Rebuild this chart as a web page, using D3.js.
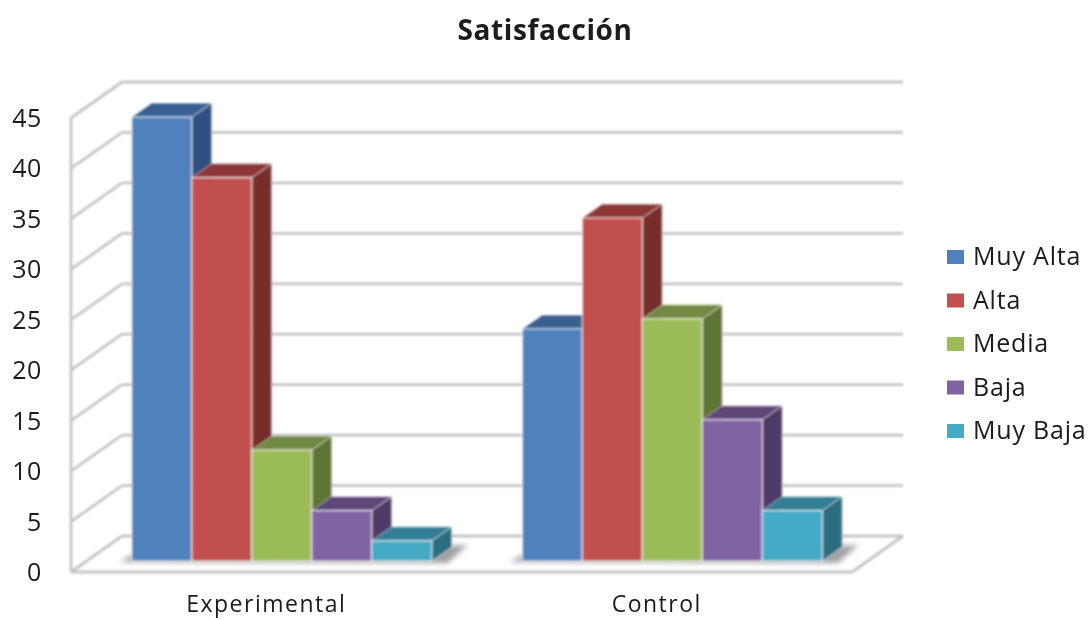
<!DOCTYPE html>
<html>
<head>
<meta charset="utf-8">
<script src="https://cdn.jsdelivr.net/npm/d3@7"></script>
<style>
html, body { margin: 0; padding: 0; background: #fff; }
svg { display: block; }
text { font-family: "Open Sans", Lato, sans-serif; fill: #1a1a1a; }
</style>
</head>
<body>
<script>
// datos
var categories = ["Experimental", "Control"];
var seriesNames = ["Muy Alta", "Alta", "Media", "Baja", "Muy Baja"];
var experimental = [44, 38, 11, 5, 2];
var control = [23, 34, 24, 14, 5];
var tickValues = [0, 5, 10, 15, 20, 25, 30, 35, 40, 45];

// colores: frente, arriba, lado
var frontColors = ["#4f81bd", "#c0504d", "#9bbb59", "#8064a2", "#45aac6"];
var topColors = ["#386090", "#8e3634", "#71893f", "#5e4679", "#317f95"];
var sideColors = ["#2f5080", "#772d2b", "#5e7535", "#4e3a66", "#296d80"];

var w = 1088, h = 620;
var left = 71, right = 852, floorY = 572;
var wallDx = 51, wallDy = -36;   // profundidad de la pared
var barOffX = 15.5, barOffY = -11; // frente de la barra
var barDx = 20, barDy = -14;     // profundidad de la barra

var svg = d3.select("body").append("svg")
  .attr("width", w)
  .attr("height", h);

var defs = svg.append("defs");
defs.append("filter").attr("id", "soft")
  .append("feGaussianBlur").attr("stdDeviation", 0.8);
defs.append("filter").attr("id", "softText")
  .append("feGaussianBlur").attr("stdDeviation", 0.5);
defs.append("filter").attr("id", "shadow")
  .attr("x", "-20%").attr("width", "140%")
  .attr("y", "-50%").attr("height", "200%")
  .append("feGaussianBlur").attr("stdDeviation", 2.4);

var y = d3.scaleLinear().domain([0, 45]).range([floorY, floorY - 454]);
var x0 = d3.scaleBand().domain(categories).range([left, right]);
var x1 = d3.scaleBand().domain(seriesNames).range([-150, 150]);
var values = { "Experimental": experimental, "Control": control };

var chart = svg.append("g").attr("filter", "url(#soft)");

// paredes y piso
var gridColor = "#c4c4c4";
var grid = chart.append("g").attr("fill", "none").attr("stroke", gridColor).attr("stroke-width", 2.8);

grid.selectAll("line.back")
  .data(tickValues)
  .enter()
  .append("line")
  .attr("class", "back")
  .attr("x1", left + wallDx)
  .attr("x2", right + wallDx)
  .attr("y1", function(d) { return y(d) + wallDy; })
  .attr("y2", function(d) { return y(d) + wallDy; });

grid.selectAll("line.side")
  .data(tickValues)
  .enter()
  .append("line")
  .attr("class", "side")
  .attr("x1", left)
  .attr("x2", left + wallDx)
  .attr("y1", function(d) { return y(d); })
  .attr("y2", function(d) { return y(d) + wallDy; });

grid.append("line")
  .attr("x1", left).attr("x2", left)
  .attr("y1", y(45)).attr("y2", y(0));

grid.append("line")
  .attr("x1", left).attr("x2", right)
  .attr("y1", y(0)).attr("y2", y(0));

grid.append("line")
  .attr("x1", right).attr("x2", right + wallDx)
  .attr("y1", y(0)).attr("y2", y(0) + wallDy);

// barras
var line = d3.line();
var baseY = y(0) + barOffY;
var barH = function(v) { return y(0) - y(v); };

var groups = chart.selectAll("g.grupo")
  .data(categories)
  .enter()
  .append("g")
  .attr("class", "grupo")
  .attr("transform", function(d) {
    return "translate(" + (x0(d) + x0.bandwidth() / 2 + barOffX) + ",0)";
  });

// sombra en el piso
groups.append("path")
  .attr("fill", "#a2a2a2")
  .attr("filter", "url(#shadow)")
  .attr("d", function() {
    return line([[-162, baseY + 1], [-150, baseY - 6], [150 + barDx + 16, baseY + barDy - 2],
      [150 + 16, baseY + 2]]) + "Z";
  });

groups.each(function(cat) {
  var g = d3.select(this);
  var bars = g.selectAll("g.barra")
    .data(values[cat].map(function(v, i) { return { name: seriesNames[i], value: v, i: i }; }))
    .enter()
    .append("g")
    .attr("class", "barra");

  // lado
  bars.append("path")
    .attr("fill", function(d) { return sideColors[d.i]; })
    .attr("stroke", "#fff").attr("stroke-opacity", 0.45).attr("stroke-width", 1)
    .attr("d", function(d) {
      var r = x1(d.name) + x1.bandwidth(), t = baseY - barH(d.value);
      return line([[r, t], [r + barDx, t + barDy], [r + barDx, baseY + barDy], [r, baseY]]) + "Z";
    });

  // arriba
  bars.append("path")
    .attr("fill", function(d) { return topColors[d.i]; })
    .attr("stroke", "#fff").attr("stroke-opacity", 0.45).attr("stroke-width", 1)
    .attr("d", function(d) {
      var l = x1(d.name), r = l + x1.bandwidth(), t = baseY - barH(d.value);
      return line([[l, t], [l + barDx, t + barDy], [r + barDx, t + barDy], [r, t]]) + "Z";
    });

  // frente
  bars.append("rect")
    .attr("x", function(d) { return x1(d.name); })
    .attr("y", function(d) { return baseY - barH(d.value); })
    .attr("width", x1.bandwidth())
    .attr("height", function(d) { return barH(d.value); })
    .attr("fill", function(d) { return frontColors[d.i]; })
    .attr("stroke", "#fff").attr("stroke-opacity", 0.7).attr("stroke-width", 1.2);
});

var labels = svg.append("g").attr("filter", "url(#softText)");

// ejes (solo etiquetas)
var yAxis = labels.append("g")
  .attr("transform", "translate(42,0)")
  .call(d3.axisLeft(y).tickValues(tickValues).tickSize(0).tickPadding(0));
yAxis.select(".domain").remove();
yAxis.selectAll("text")
  .attr("font-size", 25)
  .attr("font-family", "'Open Sans', sans-serif")
  .attr("letter-spacing", 0.6)
  .attr("dy", "0.34em");

var xAxis = labels.append("g")
  .attr("transform", "translate(0,605)")
  .call(d3.axisBottom(x0).tickSize(0).tickPadding(0));
xAxis.select(".domain").remove();
xAxis.selectAll("text")
  .attr("font-size", 23)
  .attr("font-family", "'Open Sans', sans-serif")
  .attr("letter-spacing", 1.5)
  .attr("dy", "0.32em")
  .attr("y", 0);

// titulo
labels.append("text")
  .attr("x", 545)
  .attr("y", 40)
  .attr("text-anchor", "middle")
  .attr("font-size", 28)
  .attr("letter-spacing", 0.6)
  .attr("font-weight", "bold")
  .text("Satisfacción");

// leyenda
var legendY = d3.scalePoint().domain(seriesNames).range([257, 431]);

var legend = labels.selectAll("g.leyenda")
  .data(seriesNames)
  .enter()
  .append("g")
  .attr("class", "leyenda")
  .attr("transform", function(d) { return "translate(947," + legendY(d) + ")"; });

legend.append("rect")
  .attr("x", 0)
  .attr("y", -7)
  .attr("width", 17)
  .attr("height", 14)
  .attr("fill", function(d, i) { return frontColors[i]; });

legend.append("text")
  .attr("x", 26)
  .attr("y", 0)
  .attr("dy", "0.33em")
  .attr("font-size", 25)
  .attr("letter-spacing", 0.8)
  .text(function(d) { return d; });
</script>
</body>
</html>
